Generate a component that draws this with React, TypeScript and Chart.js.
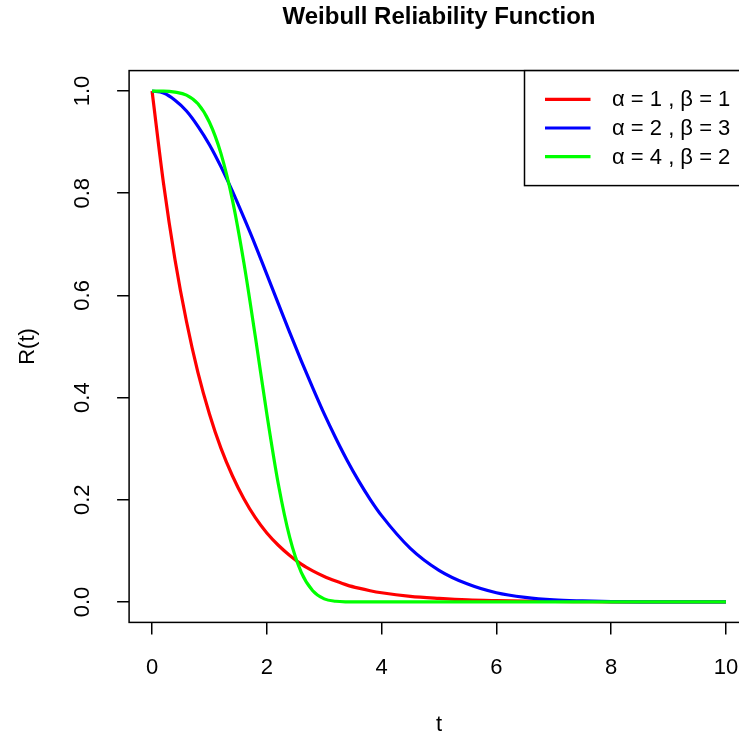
import React, { useEffect, useRef } from "react";
import { Chart, registerables } from "chart.js";

Chart.register(...registerables);

// ---- data ----
const tValues = [
  0, 0.2, 0.4, 0.6, 0.8, 1.0, 1.2, 1.4, 1.6, 1.8, 2.0, 2.2, 2.4, 2.6, 2.8, 3.0, 3.2, 3.4, 3.6, 3.8, 4.0,
  4.5, 5, 5.5, 6, 6.5, 7, 7.5, 8, 8.5, 9, 9.5, 10,
];
const redValues = [
  1, 0.819, 0.67, 0.549, 0.449, 0.368, 0.301, 0.247, 0.202, 0.165, 0.135, 0.111, 0.091, 0.074, 0.061, 0.05, 0.041, 0.033, 0.027, 0.022, 0.018,
  0.011, 0.007, 0.004, 0.0025, 0.0015, 0.0009, 0.0006, 0.0003, 0.0002, 0.0001, 0.0001, 0.00005,
];
const blueValues = [
  1, 0.996, 0.982, 0.961, 0.931, 0.895, 0.852, 0.804, 0.752, 0.698, 0.641, 0.584, 0.527, 0.472, 0.419, 0.368, 0.321, 0.277, 0.237, 0.201, 0.169,
  0.105, 0.062, 0.035, 0.018, 0.009, 0.004, 0.002, 0.0008, 0.0003, 0.0001, 0.00004, 0.00001,
];
const greenValues = [
  1, 1.0, 0.998, 0.992, 0.975, 0.939, 0.878, 0.787, 0.664, 0.519, 0.368, 0.231, 0.126, 0.058, 0.022, 0.006, 0.0014, 0.0002, 0, 0, 0,
  0, 0, 0, 0, 0, 0, 0, 0, 0, 0, 0, 0,
];
const seriesLabels = ["α = 1 , β = 1", "α = 2 , β = 3", "α = 4 , β = 2"];
const xTickValues = [0, 2, 4, 6, 8, 10];
const yTickValues = [0, 0.2, 0.4, 0.6, 0.8, 1.0];
const titleText = "Weibull Reliability Function";
const xAxisTitle = "t";
const yAxisTitle = "R(t)";

const FONT = '"Liberation Sans", Arial, Helvetica, sans-serif';
const FS = 22;

const boxPlugin = {
  id: "rBox",
  afterDraw(chart: any) {
    const { ctx, chartArea } = chart;
    const { left, top, right, bottom } = chartArea;
    ctx.save();
    ctx.strokeStyle = "#000";
    ctx.lineWidth = 1.5;
    ctx.strokeRect(left, top, right - left, bottom - top);

    // legend (top-right, inside plot region)
    const boxW = 224.4;
    const boxH = 115;
    const bx = right - boxW;
    const by = top;
    ctx.fillStyle = "#fff";
    ctx.fillRect(bx, by, boxW, boxH);
    ctx.strokeRect(bx, by, boxW, boxH);
    const rowH = 28.7;
    ctx.font = `${FS}px ${FONT}`;
    ctx.textBaseline = "middle";
    ctx.textAlign = "left";
    chart.data.datasets.forEach((ds: any, i: number) => {
      const y = by + 28.7 + i * rowH;
      ctx.strokeStyle = ds.borderColor;
      ctx.lineWidth = 3.2;
      ctx.beginPath();
      ctx.moveTo(bx + 20.5, y);
      ctx.lineTo(bx + 66, y);
      ctx.stroke();
      ctx.fillStyle = "#000";
      ctx.fillText(ds.label, bx + 87.5, y + 1);
    });
    ctx.restore();
  },
};

export default function App() {
  const ref = useRef<HTMLCanvasElement>(null);
  useEffect(() => {
    const mk = (vals: number[]) => tValues.map((t, i) => ({ x: t, y: vals[i] }));
    const colors = ["#FF0000", "#0000FF", "#00FF00"];
    const vals = [redValues, blueValues, greenValues];
    const chart = new Chart(ref.current!, {
      type: "line",
      data: {
        datasets: vals.map((v, i) => ({
          label: seriesLabels[i],
          data: mk(v),
          borderColor: colors[i],
          backgroundColor: colors[i],
          borderWidth: 3.2,
          pointRadius: 0,
          fill: false,
          cubicInterpolationMode: "monotone" as const,
          order: 3 - i,
        })),
      },
      options: {
        responsive: false,
        animation: false,
        devicePixelRatio: 1,
        layout: { padding: { left: 0, right: 11.1, top: 0, bottom: 0 } },
        plugins: {
          legend: { display: false },
          tooltip: { enabled: false },
          title: {
            display: true,
            text: titleText,
            fullSize: false,
            color: "#000",
            font: { family: FONT, size: 24, weight: "bold" },
            padding: { top: 2.6, bottom: 39.2 },
          },
        },
        scales: {
          x: {
            type: "linear",
            min: -0.4,
            max: 10.4,
            afterBuildTicks: (s: any) => {
              s.ticks = xTickValues.map((v) => ({ value: v }));
            },
            afterFit: (s: any) => {
              s.height = 117.6;
            },
            border: { display: false },
            grid: {
              drawOnChartArea: false,
              drawTicks: true,
              tickLength: 12,
              color: "#000",
              lineWidth: 1.5,
            },
            ticks: {
              color: "#000",
              font: { family: FONT, size: FS },
              padding: 20.4,
              maxRotation: 0,
              autoSkip: false,
              callback: (v: any) => String(v),
            },
            title: {
              display: true,
              text: xAxisTitle,
              color: "#000",
              font: { family: FONT, size: FS },
              padding: { top: 1.8, bottom: 1.8 },
            },
          },
          y: {
            type: "linear",
            min: -0.04,
            max: 1.04,
            afterBuildTicks: (s: any) => {
              s.ticks = yTickValues.map((v) => ({ value: v }));
            },
            afterFit: (s: any) => {
              s.width = 129.1;
            },
            border: { display: false },
            grid: {
              drawOnChartArea: false,
              drawTicks: true,
              tickLength: 12,
              color: "#000",
              lineWidth: 1.5,
            },
            ticks: {
              color: "#000",
              font: { family: FONT, size: FS },
              padding: 18.8,
              minRotation: 90,
              maxRotation: 90,
              crossAlign: "center",
              autoSkip: false,
              callback: (v: any) => Number(v).toFixed(1),
            },
            title: {
              display: true,
              text: yAxisTitle,
              color: "#000",
              font: { family: FONT, size: FS },
              padding: { top: 14.8, bottom: 14.8 },
            },
          },
        },
      },
      plugins: [boxPlugin],
    });
    return () => chart.destroy();
  }, []);

  return (
    <div
      style={{
        position: "fixed",
        left: 0,
        top: 0,
        width: 739,
        height: 740,
        overflow: "hidden",
        background: "#fff",
      }}
    >
      <canvas ref={ref} width={760} height={740} style={{ display: "block", width: 760, height: 740 }} />
    </div>
  );
}
